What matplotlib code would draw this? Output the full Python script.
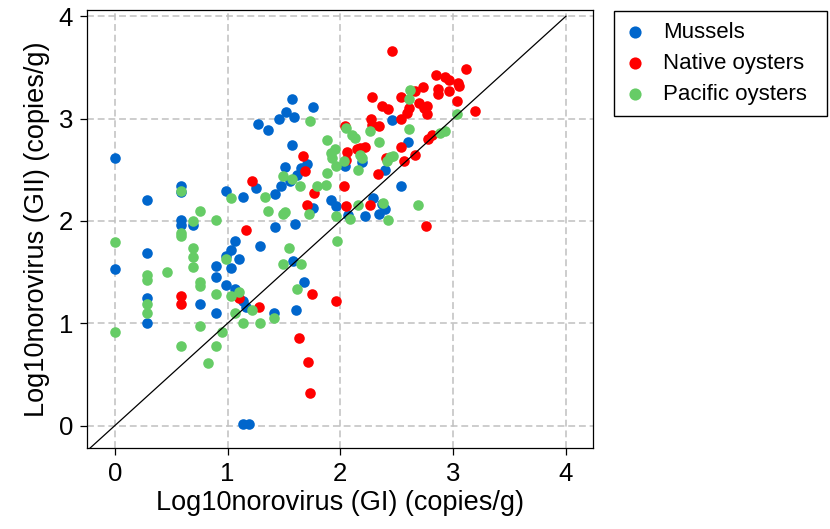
import numpy as np
import matplotlib.pyplot as plt

plt.rcParams['font.family'] = ['Liberation Sans', 'DejaVu Sans']

# Mussels (GI, GII)
mussels_x = [0, 1.57, 1.76, 1.515, 1.46, 1.585, 1.27, 1.355, 1.57, 1.505, 1.70, 1.65, 1.62,
             1.475, 1.55, 1.25, 1.42, 1.14, 0.99, 0.585, 0.585, 0.285, 1.92, 1.96, 1.76,
             0.585, 0.585, 0.693, 1.42, 1.60, 0.285, 1.07, 1.03, 0.99, 1.10, 1.285, 0,
             0.895, 0.895, 1.03, 0.99, 1.07, 1.14, 1.16, 0.285, 0.285, 0.76, 0.895, 1.58,
             1.68, 1.41, 1.61, 1.14, 1.19, 2.46, 2.60, 2.04, 2.19, 2.395, 2.54, 2.29, 2.37,
             2.22, 2.34, 2.395, 2.07]
mussels_y = [2.61, 3.19, 3.11, 3.06, 3.00, 3.02, 2.95, 2.89, 2.74, 2.53, 2.56, 2.52, 2.45,
             2.34, 2.39, 2.32, 2.26, 2.23, 2.29, 2.34, 2.28, 2.20, 2.20, 2.15, 2.13,
             2.006, 1.957, 1.957, 1.94, 1.97, 1.69, 1.80, 1.72, 1.66, 1.63, 1.755, 1.53,
             1.56, 1.455, 1.54, 1.37, 1.34, 1.22, 1.16, 1.25, 1.00, 1.19, 1.10, 1.61,
             1.40, 1.10, 1.13, 0.02, 0.02, 2.99, 2.77, 2.54, 2.575, 2.50, 2.34, 2.22, 2.17,
             2.05, 2.07, 2.12, 2.06]

# Native oysters
native_x = [1.665, 1.69, 1.215, 1.77, 1.70, 1.165, 0.585, 0.585, 1.10, 1.275, 1.745, 1.965,
            1.63, 1.71, 1.73, 2.46, 3.11, 2.85, 2.93, 2.96, 3.04, 3.05, 2.735, 2.87, 2.87,
            2.96, 2.66, 2.285, 2.54, 3.03, 2.70, 2.74, 2.77, 2.77, 2.37, 2.42, 2.61, 2.59,
            2.54, 3.19, 2.27, 2.285, 2.345, 2.04, 2.81, 2.78, 2.22, 2.145, 2.17, 2.535,
            2.06, 2.05, 2.405, 2.56, 2.66, 2.33, 2.03, 2.05, 2.26, 2.76]
native_y = [2.63, 2.49, 2.39, 2.27, 2.16, 1.91, 1.27, 1.19, 1.25, 1.16, 1.29, 1.22,
            0.86, 0.62, 0.32, 3.66, 3.48, 3.43, 3.41, 3.38, 3.35, 3.32, 3.31, 3.29, 3.24,
            3.27, 3.27, 3.21, 3.21, 3.17, 3.15, 3.10, 3.12, 3.04, 3.12, 3.09, 3.10, 3.05,
            3.00, 3.07, 3.00, 2.94, 2.93, 2.925, 2.84, 2.80, 2.72, 2.70, 2.71, 2.72,
            2.67, 2.60, 2.61, 2.59, 2.64, 2.455, 2.34, 2.145, 2.16, 1.95]

# Pacific oysters
pacific_x = [1.73, 1.88, 1.95, 1.92, 1.93, 1.96, 1.88, 1.49, 1.57, 1.64, 1.79, 1.87, 1.33,
             1.03, 0.585, 1.36, 1.49, 1.51, 1.72, 1.96, 0.76, 0.693, 0.895, 0, 0.585, 0.585,
             0.693, 0.693, 0.693, 0.46, 0.285, 0.285, 0.285, 0.285, 0.76, 0.76, 0.895, 1.03,
             1.10, 0.99, 1.07, 1.14, 1.22, 1.29, 1.41, 1.545, 1.49, 1.65, 1.62, 1.97, 0,
             0.76, 0.95, 0.585, 0.895, 0.83, 2.62, 2.61, 3.03, 2.05, 2.26, 2.61, 2.10, 2.13,
             2.345, 2.88, 2.93, 2.17, 2.19, 2.03, 2.44, 2.47, 2.41, 2.155, 2.16, 2.38, 2.69,
             2.085, 2.425]
pacific_y = [2.98, 2.79, 2.70, 2.66, 2.61, 2.54, 2.47, 2.44, 2.41, 2.34, 2.34, 2.35, 2.23,
             2.22, 2.29, 2.10, 2.07, 2.09, 2.07, 2.05, 2.10, 2.00, 2.006, 1.79, 1.885, 1.85,
             1.74, 1.65, 1.55, 1.50, 1.47, 1.42, 1.19, 1.10, 1.40, 1.36, 1.29, 1.27,
             1.31, 1.625, 1.10, 1.006, 1.13, 1.006, 1.055, 1.74, 1.58, 1.58, 1.335, 1.80, 0.92,
             0.97, 0.92, 0.78, 0.78, 0.615, 3.28, 3.19, 3.04, 2.91, 2.88, 2.895, 2.84, 2.81,
             2.77, 2.86, 2.875, 2.64, 2.61, 2.59, 2.62, 2.63, 2.59, 2.50, 2.16, 2.18, 2.16,
             2.02, 2.006]

ticks = [0, 1, 2, 3, 4]

fig = plt.figure(figsize=(8.3, 5.29), dpi=100)
ax = fig.add_axes([0.1048, 0.1537, 0.6097, 0.8273])

ax.scatter(mussels_x, mussels_y, s=58, color='#0066CC', linewidths=0, label='Mussels', zorder=3)
ax.scatter(native_x, native_y, s=58, color='#FF0000', linewidths=0, label='Native oysters', zorder=3)
ax.scatter(pacific_x, pacific_y, s=58, color='#66CC66', linewidths=0, label='Pacific oysters', zorder=3)

ax.plot([-0.3, 4], [-0.3, 4], color='black', lw=0.9, zorder=4)

ax.set_xlim(-0.246, 4.24)
ax.set_ylim(-0.215, 4.06)
ax.set_xticks(ticks)
ax.set_yticks(ticks)
ax.grid(True, color='#c0c0c0', lw=1.1, ls=(0, (4.5, 2.5)), zorder=0)
ax.set_axisbelow(True)

for sp in ax.spines.values():
    sp.set_linewidth(0.9)
    sp.set_color('black')
ax.tick_params(direction='out', length=5, width=0.9, labelsize=18.5, pad=5)

ax.set_xlabel('Log10norovirus (GI) (copies/g)', fontsize=19.5, labelpad=3)
ax.set_ylabel('Log10norovirus (GII) (copies/g)', fontsize=19.5, labelpad=6)

# legend box spans x 614..827 px, top at 11 px
leg = fig.legend(loc='upper left', bbox_to_anchor=(614 / 830, 0, 213 / 830, 1 - 11 / 529),
                 mode='expand', fontsize=16, frameon=True, fancybox=False, framealpha=1,
                 edgecolor='black', borderaxespad=0, handletextpad=0.8,
                 labelspacing=0.45, borderpad=0.5, handlelength=0.9,
                 markerscale=1.15)
leg.get_frame().set_linewidth(1.0)

fig.savefig('out.png', dpi=100)
